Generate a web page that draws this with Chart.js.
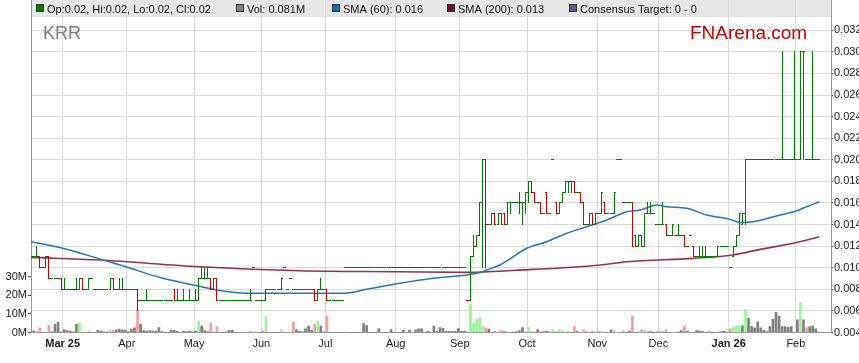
<!DOCTYPE html>
<html><head><meta charset="utf-8">
<script src="https://cdn.jsdelivr.net/npm/chart.js@4.4.1/dist/chart.umd.min.js"></script>
<style>html,body{margin:0;padding:0;background:#fff;overflow:hidden}#wrap{width:859px;height:363px}</style>
</head><body><div id="wrap"><canvas id="c" width="859" height="363"></canvas></div>
<script>
// ---- DATA (one entry per trading slot, slot index starts at firstSlot) ----
const firstSlot = -10;
const open = [
0.011,0.011,0.011,0.010,0.010,0.011,0.009,0.009,0.009,0.009,
0.008,0.008,0.008,0.008,0.008,0.008,0.009,0.008,0.008,0.009,
0.008,0.008,0.008,0.008,0.008,0.008,0.009,0.008,0.008,0.008,
0.008,0.008,0.008,0.008,0.008,0.007,0.007,0.007,0.007,0.007,
0.007,0.007,0.007,0.007,0.007,0.007,0.008,0.007,0.007,0.007,
0.007,0.007,0.007,0.007,0.007,0.009,0.009,0.009,0.009,0.008,
0.009,0.007,0.007,0.007,0.007,0.007,0.007,0.007,0.007,0.007,
0.007,0.007,0.010,0.007,0.007,0.007,0.007,0.008,0.008,0.008,
0.008,0.008,0.010,0.008,0.009,0.008,0.008,0.008,0.008,0.008,
0.008,0.008,0.008,0.007,0.008,0.008,0.008,0.007,0.007,0.007,
0.007,0.007,0.010,0.010,0.010,0.010,0.010,0.010,0.010,0.010,
0.010,0.010,0.010,0.010,0.010,0.010,0.010,0.010,0.010,0.010,
0.010,0.010,0.010,0.010,0.010,0.010,0.010,0.010,0.010,0.010,
0.010,0.010,0.010,0.010,0.010,0.010,0.010,0.010,0.010,0.010,
0.010,0.010,0.007,0.007,0.011,0.012,0.013,0.016,0.020,0.014,
0.014,0.015,0.014,0.015,0.015,0.014,0.016,0.016,0.016,0.016,
0.016,0.016,0.017,0.018,0.017,0.016,0.016,0.015,0.017,0.015,
0.020,0.016,0.015,0.016,0.017,0.018,0.018,0.018,0.017,0.017,
0.016,0.014,0.014,0.015,0.014,0.015,0.015,0.016,0.015,0.015,
0.015,0.020,0.020,0.016,0.016,0.016,0.016,0.013,0.012,0.013,
0.012,0.015,0.015,0.015,0.014,0.014,0.014,0.014,0.013,0.013,
0.013,0.013,0.013,0.013,0.012,0.013,0.012,0.011,0.011,0.011,
0.011,0.011,0.011,0.011,0.011,0.012,0.012,0.012,0.010,0.011,
0.012,0.013,0.014,0.015,0.020,0.020,0.020,0.020,0.020,0.020,
0.020,0.020,0.020,0.020,0.020,0.020,0.020,0.020,0.020,0.020,
0.020,0.020,0.030,0.020,0.020,0.020,0.020,0.020];
const high = [
0.011,0.012,0.011,0.010,0.011,0.011,0.009,0.009,0.009,0.009,
0.009,0.008,0.008,0.008,0.009,0.009,0.009,0.008,0.009,0.009,
0.008,0.008,0.008,0.008,0.008,0.009,0.009,0.008,0.009,0.009,
0.008,0.008,0.008,0.008,0.008,0.007,0.007,0.008,0.007,0.007,
0.007,0.007,0.007,0.007,0.007,0.007,0.008,0.008,0.007,0.008,
0.007,0.008,0.007,0.008,0.009,0.010,0.010,0.010,0.009,0.009,
0.009,0.007,0.007,0.007,0.007,0.007,0.007,0.007,0.007,0.007,
0.007,0.008,0.010,0.007,0.007,0.007,0.008,0.008,0.008,0.008,
0.008,0.009,0.010,0.008,0.009,0.008,0.008,0.008,0.008,0.008,
0.008,0.008,0.008,0.008,0.009,0.008,0.008,0.007,0.007,0.007,
0.007,0.007,0.010,0.010,0.010,0.010,0.010,0.010,0.010,0.010,
0.010,0.010,0.010,0.010,0.010,0.010,0.010,0.010,0.010,0.010,
0.010,0.010,0.010,0.010,0.010,0.010,0.010,0.010,0.010,0.010,
0.010,0.010,0.010,0.010,0.010,0.010,0.010,0.010,0.010,0.010,
0.010,0.010,0.007,0.011,0.013,0.013,0.016,0.020,0.020,0.014,
0.015,0.015,0.015,0.015,0.015,0.016,0.016,0.016,0.016,0.017,
0.016,0.017,0.018,0.018,0.017,0.016,0.016,0.015,0.017,0.015,
0.020,0.016,0.016,0.017,0.018,0.018,0.018,0.018,0.017,0.017,
0.016,0.014,0.015,0.015,0.015,0.015,0.017,0.016,0.015,0.015,
0.017,0.020,0.020,0.016,0.016,0.016,0.016,0.013,0.013,0.013,
0.015,0.016,0.016,0.015,0.014,0.014,0.016,0.014,0.013,0.014,
0.013,0.014,0.013,0.013,0.012,0.013,0.012,0.011,0.012,0.012,
0.012,0.011,0.011,0.011,0.012,0.012,0.012,0.012,0.010,0.012,
0.013,0.015,0.015,0.020,0.020,0.020,0.020,0.020,0.020,0.020,
0.020,0.020,0.020,0.020,0.020,0.030,0.020,0.020,0.020,0.030,
0.020,0.030,0.030,0.020,0.020,0.030,0.020,0.020];
const low = [
0.011,0.011,0.010,0.010,0.010,0.009,0.009,0.009,0.009,0.008,
0.008,0.008,0.008,0.008,0.008,0.008,0.008,0.008,0.008,0.009,
0.008,0.008,0.008,0.008,0.008,0.008,0.008,0.008,0.008,0.008,
0.008,0.008,0.008,0.008,0.006,0.007,0.007,0.007,0.007,0.007,
0.007,0.007,0.007,0.007,0.007,0.007,0.007,0.007,0.007,0.007,
0.007,0.007,0.007,0.007,0.007,0.009,0.009,0.009,0.008,0.008,
0.007,0.007,0.007,0.007,0.007,0.007,0.007,0.007,0.007,0.007,
0.007,0.007,0.010,0.007,0.007,0.007,0.007,0.008,0.008,0.008,
0.008,0.008,0.010,0.008,0.009,0.008,0.008,0.008,0.008,0.008,
0.008,0.008,0.007,0.007,0.008,0.008,0.007,0.007,0.007,0.007,
0.007,0.007,0.010,0.010,0.010,0.010,0.010,0.010,0.010,0.010,
0.010,0.010,0.010,0.010,0.010,0.010,0.010,0.010,0.010,0.010,
0.010,0.010,0.010,0.010,0.010,0.010,0.010,0.010,0.010,0.010,
0.010,0.010,0.010,0.010,0.010,0.010,0.010,0.010,0.010,0.010,
0.010,0.010,0.007,0.007,0.011,0.012,0.013,0.010,0.010,0.014,
0.014,0.014,0.014,0.014,0.014,0.014,0.015,0.016,0.016,0.015,
0.014,0.015,0.016,0.017,0.016,0.016,0.015,0.015,0.015,0.015,
0.020,0.015,0.015,0.016,0.017,0.017,0.017,0.017,0.017,0.016,
0.014,0.014,0.014,0.014,0.014,0.015,0.015,0.015,0.015,0.015,
0.015,0.020,0.020,0.016,0.016,0.016,0.012,0.012,0.012,0.012,
0.012,0.015,0.015,0.015,0.014,0.014,0.014,0.013,0.013,0.013,
0.013,0.013,0.013,0.012,0.012,0.013,0.011,0.011,0.011,0.011,
0.011,0.011,0.011,0.011,0.011,0.012,0.012,0.012,0.010,0.011,
0.012,0.013,0.014,0.014,0.020,0.020,0.020,0.020,0.020,0.020,
0.020,0.020,0.020,0.020,0.020,0.020,0.020,0.020,0.020,0.020,
0.020,0.020,0.020,0.020,0.020,0.020,0.020,0.020];
const close = [
0.011,0.011,0.010,0.010,0.011,0.009,0.009,0.009,0.009,0.008,
0.008,0.008,0.008,0.008,0.008,0.009,0.008,0.008,0.009,0.009,
0.008,0.008,0.008,0.008,0.008,0.009,0.008,0.008,0.008,0.008,
0.008,0.008,0.008,0.008,0.007,0.007,0.007,0.007,0.007,0.007,
0.007,0.007,0.007,0.007,0.007,0.007,0.007,0.007,0.007,0.007,
0.007,0.007,0.007,0.007,0.009,0.009,0.009,0.009,0.008,0.009,
0.007,0.007,0.007,0.007,0.007,0.007,0.007,0.007,0.007,0.007,
0.007,0.007,0.010,0.007,0.007,0.007,0.008,0.008,0.008,0.008,
0.008,0.009,0.010,0.008,0.009,0.008,0.008,0.008,0.008,0.008,
0.008,0.008,0.007,0.008,0.008,0.008,0.007,0.007,0.007,0.007,
0.007,0.007,0.010,0.010,0.010,0.010,0.010,0.010,0.010,0.010,
0.010,0.010,0.010,0.010,0.010,0.010,0.010,0.010,0.010,0.010,
0.010,0.010,0.010,0.010,0.010,0.010,0.010,0.010,0.010,0.010,
0.010,0.010,0.010,0.010,0.010,0.010,0.010,0.010,0.010,0.010,
0.010,0.010,0.007,0.011,0.012,0.013,0.016,0.020,0.014,0.014,
0.015,0.014,0.015,0.014,0.014,0.016,0.016,0.016,0.016,0.016,
0.016,0.017,0.018,0.017,0.016,0.016,0.015,0.015,0.015,0.015,
0.020,0.015,0.016,0.017,0.018,0.018,0.018,0.017,0.017,0.016,
0.014,0.014,0.015,0.014,0.015,0.015,0.017,0.015,0.015,0.015,
0.017,0.020,0.020,0.016,0.016,0.016,0.012,0.012,0.013,0.012,
0.015,0.015,0.015,0.015,0.014,0.014,0.014,0.013,0.013,0.014,
0.013,0.013,0.013,0.012,0.012,0.013,0.011,0.011,0.011,0.011,
0.011,0.011,0.011,0.011,0.012,0.012,0.012,0.012,0.010,0.012,
0.013,0.015,0.015,0.020,0.020,0.020,0.020,0.020,0.020,0.020,
0.020,0.020,0.020,0.020,0.020,0.020,0.020,0.020,0.020,0.020,
0.020,0.030,0.030,0.020,0.020,0.020,0.020,0.020];
// volume in millions of shares
const volume = [
0.9,0.3,2.5,0,0.3,3.8,0.3,4.4,5.6,0.5,
1.6,1.0,0.8,0.3,4.4,5.2,0,0,1.0,0,
0,1.2,0.8,0.3,0.3,1.6,1.2,1.5,1.8,1.5,
1.2,0.5,1.8,2.5,12,4.5,1.0,0.8,1.0,0.8,
0.8,2.7,0.5,0,0,1.2,1.2,0.6,0,0.8,
0.5,0.8,0.3,0.8,6.2,3.4,1.0,0.5,5.2,0.5,
3.0,0,0,0.3,1.2,1.2,0,0,0,0,
0,0.3,0,0.2,0,0.5,8.4,0,0,0,
0,1.6,0.3,0,0,5.7,1.6,0.8,0.3,2.0,
3.4,1.2,4.4,6.2,3.4,0.3,8.7,0,0,0,
0,0,0,0,0,0,0,0,4.8,3.7,
0,0,0,2.1,0,0,0,1.6,0,0,
0,1.2,0,1.2,0,1.5,2.0,2.0,0,0.6,
0,3.4,0.6,2.6,2.2,0.6,0.6,0.6,0.6,2.1,
0.6,0.6,0.3,15.2,4.5,7.0,8.0,3.4,2.5,1.8,
0.3,0.8,0.3,1.2,0.5,0.3,0,0,0.5,1.0,
2.6,0.5,2.6,0.5,0.3,1.5,0,0.5,0.6,0,
1.5,0.5,1.5,1.2,0.3,0.3,0,3.3,0.5,0,
1.6,0.3,0.3,0.8,0.3,0.3,0.5,0,0,1.5,
1.5,0,0,0.8,0,0.8,8.8,0,0.3,1.5,
1.5,0.3,0.5,0,0.8,0.3,0.3,1.6,0,0,
0,0.3,1.0,3.4,0.8,0,0,1.2,0.8,0.5,
0,0.5,0,0,0.5,0.5,0.8,0,2.0,3.1,
3.6,3.6,3.6,12.5,7.7,3.2,2.5,5.8,2.5,1.2,
0.5,3.2,7.1,10.9,8.8,3.2,3.2,2.8,3.2,0,
6.8,15.9,6.8,2.6,3.2,3.6,2.0,0.081];
// moving averages read at sample slots
const sma60Slot = [-10.9,-1.4,11.7,20.5,31.4,42.3,49.9,60.8,77.2,91.3,99,109.9,120.8,131.8,135,138.3,142.6,144.8,151.4,157.9,164.5,171,177.6,184.1,188.5,194,197.2,203.8,210.3,217.9,221.2,225.5,232.1,239.8,243,247.2];
const sma60 = [0.01241,0.01187,0.01081,0.01006,0.00909,0.0084,0.00794,0.00763,0.00763,0.00763,0.0080,0.00856,0.00902,0.00932,0.00948,0.00979,0.01025,0.01062,0.0118,0.01241,0.01319,0.0138,0.01442,0.01519,0.01534,0.01581,0.01565,0.0155,0.01488,0.01448,0.0142,0.01426,0.01472,0.01528,0.01565,0.01611];
const sma200Slot = [-10.9,11.7,44.5,77.2,109.9,132.8,153.5,162.3,175.4,184.1,205.8,218.9,227.8,238.6,247.2];
const sma200 = [0.01096,0.01071,0.01009,0.00972,0.00963,0.00957,0.00985,0.00997,0.01025,0.01056,0.01087,0.01118,0.0117,0.01226,0.01287];
// axis ticks
const monthTickSlot = [-0.5,20.5,42.5,64.5,85.5,108.5,129.5,151.5,174.5,194.5,217.5,239.5];
const monthTickLabels = ['Mar 25','Apr','May','Jun','Jul','Aug','Sep','Oct','Nov','Dec','Jan 26','Feb'];
const priceTicks = [0.004,0.006,0.008,0.010,0.012,0.014,0.016,0.018,0.020,0.022,0.024,0.026,0.028,0.030,0.032];
const volumeTicks = [0,10,20,30];
const legendItems = [
  {label:'Op:0.02, Hi:0.02, Lo:0.02, Cl:0.02', color:'#008000', x:36},
  {label:'Vol: 0.081M', color:'#808080', x:236},
  {label:'SMA (60): 0.016', color:'#1f6fb4', x:332},
  {label:'SMA (200): 0.013', color:'#7f0f2f', x:447},
  {label:'Consensus Target: 0 - 0', color:'#5c5c8a', x:569}
];

// ---- CHART ----
const FONT = '"Liberation Sans", Arial, sans-serif';
Chart.defaults.font.family = FONT;
const slots = close.map((_, k) => firstSlot + k);
const UP = '#008000', DOWN = '#d40000';
const priceColor = close.map((c, k) => {
  const prev = k > 0 ? close[k-1] : c;
  return (c < open[k] || (c === open[k] && c < prev)) ? DOWN : UP;
});
const volColor = close.map((c, k) => {
  const prev = k > 0 ? close[k-1] : c;
  return c > prev ? '#98f598' : (c < prev ? '#ff9a9a' : '#808080');
});

const ohlcPlugin = {
  id: 'ohlc',
  afterDatasetsDraw(chart) {
    const {ctx, chartArea: a} = chart;
    const xs = chart.scales.x, ys = chart.scales.y;
    ctx.save();
    ctx.beginPath(); ctx.rect(a.left, a.top, a.right - a.left, a.bottom - a.top); ctx.clip();
    for (let k = 0; k < close.length; k++) {
      if (close[k] == null) continue;
      const x = Math.floor(xs.getPixelForValue(slots[k]));
      const yh = Math.floor(ys.getPixelForValue(high[k]));
      const yl = Math.floor(ys.getPixelForValue(low[k]));
      const yo = Math.floor(ys.getPixelForValue(open[k]));
      const yc = Math.floor(ys.getPixelForValue(close[k]));
      ctx.fillStyle = priceColor[k];
      ctx.fillRect(x, yh, 1, yl - yh + 1);
      ctx.fillRect(x - 1, yo, 1, 1);
      ctx.fillRect(x + 1, yc, 1, 1);
    }
    ctx.restore();
  }
};

const framePlugin = {
  id: 'frame',
  beforeDraw(chart) {
    const {ctx, chartArea: a} = chart;
    ctx.save();
    ctx.fillStyle = '#fff'; ctx.fillRect(0, 0, chart.width, chart.height);
    ctx.fillStyle = '#e6e6e6'; ctx.fillRect(a.left, 0, a.right - a.left, 17);
    ctx.restore();
  },
  afterDraw(chart) {
    const {ctx} = chart;
    ctx.save();
    ctx.textBaseline = 'alphabetic';
    ctx.font = '11px ' + FONT;
    legendItems.forEach(it => {
      ctx.fillStyle = it.color; ctx.fillRect(it.x, 4, 8, 8);
      ctx.strokeStyle = '#333'; ctx.lineWidth = 1; ctx.strokeRect(it.x + 0.5, 4.5, 7, 7);
      ctx.fillStyle = '#111'; ctx.fillText(it.label, it.x + 11, 13);
    });
    ctx.font = '18px ' + FONT; ctx.fillStyle = '#7f7f7f'; ctx.fillText('KRR', 43, 39);
    ctx.font = '19px ' + FONT; ctx.fillStyle = '#cc0000'; ctx.fillText('FNArena.com', 690, 39);
    ctx.restore();
  }
};

new Chart(document.getElementById('c'), {
  type: 'bar',
  data: {
    datasets: [
      { type: 'line', label: 'SMA (60)', data: sma60Slot.map((s, i) => ({x: s, y: sma60[i]})), yAxisID: 'y',
        borderColor: '#2777b8', borderWidth: 1.5, pointRadius: 0, cubicInterpolationMode: 'monotone', order: 0 },
      { type: 'line', label: 'SMA (200)', data: sma200Slot.map((s, i) => ({x: s, y: sma200[i]})), yAxisID: 'y',
        borderColor: 'rgba(128,16,52,0.85)', borderWidth: 1.6, pointRadius: 0, cubicInterpolationMode: 'monotone', order: 1 },
      { type: 'bar', label: 'Vol', data: slots.map((s, k) => ({x: s, y: volume[k]})), yAxisID: 'yv',
        backgroundColor: volColor, barThickness: 2, order: 2 }
    ]
  },
  options: {
    responsive: false, animation: false, devicePixelRatio: 1,
    layout: {padding: 0},
    plugins: {legend: {display: false}, tooltip: {enabled: false}},
    scales: {
      x: {
        type: 'linear', min: -10.87, max: 251.0, offset: false,
        grid: {color: '#dadada', offset: false, tickLength: 0},
        border: {color: '#9a9a9a'},
        afterBuildTicks: s => { s.ticks = monthTickSlot.map(v => ({value: v})); },
        ticks: {
          autoSkip: false, maxRotation: 0, padding: 5, color: '#222',
          font: c => ({family: FONT, size: 11, weight: (c.tick && /\d/.test(monthTickLabels[c.index])) ? 'bold' : 'normal'}),
          callback: (v, i) => monthTickLabels[i]
        },
        afterFit: s => { s.height = 30.5; s.paddingLeft = 0; s.paddingRight = 0; }
      },
      y: {
        position: 'right', min: 0.004, max: 0.0348,
        grid: {color: '#dadada', tickLength: 2, tickColor: '#555'},
        border: {color: '#9a9a9a'},
        afterBuildTicks: s => { s.ticks = priceTicks.map(v => ({value: v})); },
        ticks: {padding: 1, color: '#222', font: {size: 11}, callback: v => v.toFixed(3)},
        afterFit: s => { s.width = 28; s.paddingTop = 0; s.paddingBottom = 0; }
      },
      yv: {
        position: 'left', min: 0, max: 178.8,
        grid: {drawOnChartArea: false, tickLength: 3, tickColor: '#555'},
        border: {color: '#9a9a9a'},
        afterBuildTicks: s => { s.ticks = volumeTicks.map(v => ({value: v})); },
        ticks: {padding: 1, color: '#222', font: {size: 11}, callback: v => v + 'M'},
        afterFit: s => { s.width = 31; s.paddingTop = 0; s.paddingBottom = 0; }
      }
    }
  },
  plugins: [framePlugin, ohlcPlugin]
});
</script></body></html>
